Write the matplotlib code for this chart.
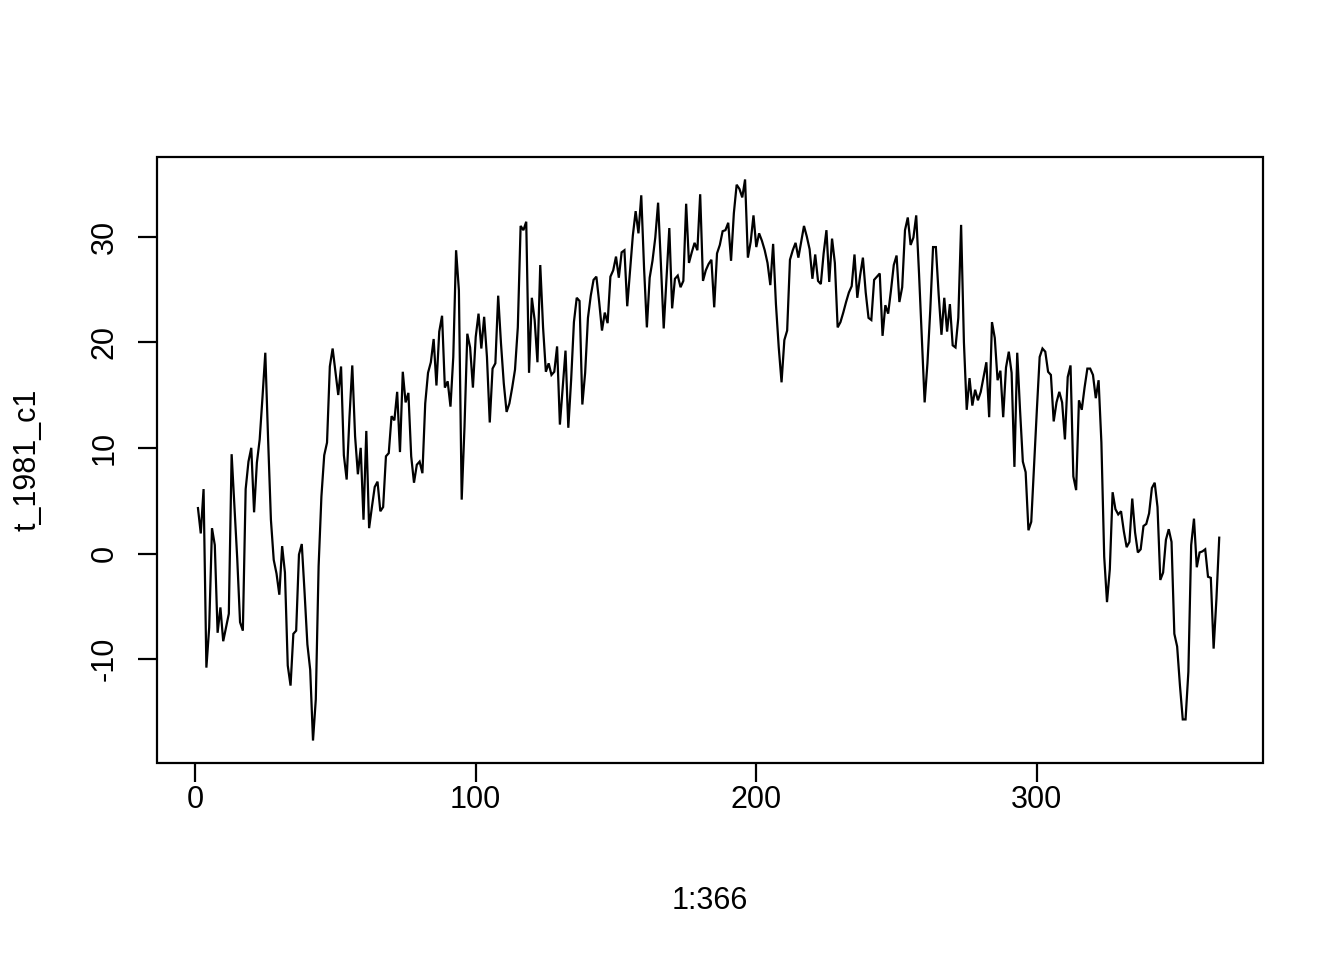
import numpy as np
import matplotlib
matplotlib.use("Agg")
import matplotlib.pyplot as plt

# Daily temperature values (index 1..366; last day has no value)
t_1981_c1 = [
    4.3, 1.9, 6.1, -10.8, -7.0, 2.4, 0.8, -7.5, -5.1, -8.3,
    -7.0, -5.7, 9.4, 4.5, -0.5, -6.5, -7.3, 6.1, 8.7, 10.0,
    3.9, 8.6, 10.8, 14.8, 19.0, 10.8, 3.2, -0.6, -1.9, -3.9,
    0.7, -1.8, -10.6, -12.5, -7.6, -7.3, -0.1, 0.9, -3.7, -8.6,
    -11.0, -17.7, -13.8, -1.2, 5.4, 9.3, 10.5, 17.7, 19.4, 17.2,
    15.0, 17.7, 9.3, 7.0, 12.9, 17.8, 11.1, 7.5, 10.0, 3.2,
    11.6, 2.4, 4.4, 6.3, 6.8, 4.0, 4.4, 9.2, 9.5, 13.0,
    12.6, 15.3, 9.6, 17.2, 14.3, 15.2, 9.2, 6.7, 8.4, 8.7,
    7.6, 14.2, 17.1, 18.1, 20.3, 15.9, 21.0, 22.5, 15.7, 16.3,
    13.9, 18.6, 28.7, 24.9, 5.1, 12.0, 20.8, 19.5, 15.7, 20.5,
    22.7, 19.4, 22.4, 18.6, 12.4, 17.5, 18.0, 24.4, 19.9, 16.1,
    13.4, 14.2, 15.7, 17.4, 21.4, 31.0, 30.6, 31.4, 17.1, 24.2,
    22.1, 18.1, 27.3, 21.4, 17.2, 18.0, 16.9, 17.2, 19.6, 12.2,
    15.7, 19.2, 11.9, 16.4, 21.9, 24.2, 23.9, 14.1, 17.1, 22.3,
    24.4, 25.9, 26.2, 23.8, 21.1, 22.8, 21.8, 26.2, 26.8, 28.1,
    26.1, 28.5, 28.7, 23.4, 26.8, 30.1, 32.4, 30.3, 33.9, 27.0,
    21.4, 26.1, 27.7, 29.9, 33.2, 27.4, 21.3, 26.0, 30.8, 23.2,
    26.0, 26.3, 25.2, 25.8, 33.1, 27.5, 28.5, 29.4, 28.7, 34.0,
    25.8, 26.8, 27.4, 27.8, 23.3, 28.4, 29.2, 30.5, 30.6, 31.3,
    27.7, 32.2, 34.9, 34.5, 33.7, 35.4, 28.0, 29.5, 32.0, 29.0,
    30.3, 29.6, 28.7, 27.5, 25.4, 29.3, 23.6, 19.5, 16.2, 20.2,
    21.1, 27.8, 28.7, 29.4, 28.0, 29.5, 31.0, 30.0, 28.8, 26.0,
    28.3, 25.8, 25.5, 28.4, 30.6, 25.7, 29.8, 27.5, 21.4, 21.9,
    22.8, 23.8, 24.7, 25.3, 28.3, 24.2, 26.3, 28.0, 24.7, 22.3,
    22.1, 25.9, 26.2, 26.5, 20.6, 23.5, 22.7, 24.9, 27.3, 28.2,
    23.8, 25.2, 30.6, 31.8, 29.2, 29.9, 32.0, 26.5, 20.5, 14.3,
    18.0, 23.0, 29.0, 29.0, 24.5, 20.7, 24.2, 21.0, 23.6, 19.7,
    19.5, 22.3, 31.1, 20.0, 13.6, 16.6, 14.0, 15.5, 14.5, 15.3,
    16.7, 18.1, 12.9, 21.9, 20.4, 16.4, 17.3, 12.9, 17.6, 19.1,
    17.1, 8.2, 19.0, 13.6, 8.7, 7.7, 2.2, 3.0, 8.4, 13.6,
    18.6, 19.4, 19.1, 17.2, 16.9, 12.5, 14.3, 15.3, 14.3, 10.8,
    16.7, 17.8, 7.3, 6.0, 14.5, 13.6, 15.7, 17.5, 17.5, 16.9,
    14.7, 16.4, 10.5, -0.3, -4.6, -1.5, 5.8, 4.2, 3.7, 4.0,
    2.1, 0.6, 1.1, 5.2, 2.0, 0.1, 0.4, 2.6, 2.8, 3.8,
    6.2, 6.7, 4.4, -2.5, -1.8, 1.3, 2.3, 1.1, -7.6, -8.8,
    -12.5, -15.7, -15.7, -11.2, 0.8, 3.3, -1.3, 0.1, 0.2, 0.4,
    -2.2, -2.3, -9.0, -4.3, 1.5, np.nan,
]
day = np.arange(1, len(t_1981_c1) + 1)

x_ticks = [0, 100, 200, 300]
y_ticks = [-10, 0, 10, 20, 30]
x_label = "1:366"
y_label = "t_1981_c1"

plt.rcParams["font.family"] = ["Liberation Sans", "DejaVu Sans"]

fig = plt.figure(figsize=(13.44, 9.6), dpi=100)
ax = fig.add_axes([157 / 1344, 1 - 763 / 960, (1263 - 157) / 1344, (763 - 157) / 960])

LW = 1.6
y = np.array(t_1981_c1, dtype=float)
ax.plot(day, y, color="black", linewidth=LW, solid_joinstyle="miter")

# R-style 4% range extension
xr = (day.min(), day.max())
dx = (xr[1] - xr[0]) * 0.04
ax.set_xlim(xr[0] - dx, xr[1] + dx)
ymin, ymax = np.nanmin(y), np.nanmax(y)
dy = (ymax - ymin) * 0.04
ax.set_ylim(ymin - dy, ymax + dy)

ax.set_xticks(x_ticks)
ax.set_yticks(y_ticks)
ax.set_xticklabels([str(v) for v in x_ticks])
ax.set_yticklabels([str(v) for v in y_ticks], rotation=90, va="center")

for s in ax.spines.values():
    s.set_visible(False)

ax.tick_params(axis="both", direction="out", length=13.8, width=LW,
               labelsize=22, color="black")
ax.tick_params(axis="x", pad=2)
ax.tick_params(axis="y", pad=13)

ax.add_patch(plt.Rectangle((0, 0), 1, 1, transform=ax.transAxes, fill=False,
                           edgecolor="black", linewidth=LW, clip_on=False))

ax.set_xlabel(x_label, fontsize=22, va="center")
ax.xaxis.set_label_coords((710 - 157) / 1106, -(901 - 763) / 606)
ax.set_ylabel(y_label, fontsize=22, va="center")
ax.yaxis.set_label_coords(-(157 - 27) / 1106, 0.5)

fig.savefig("out.png", dpi=100)
